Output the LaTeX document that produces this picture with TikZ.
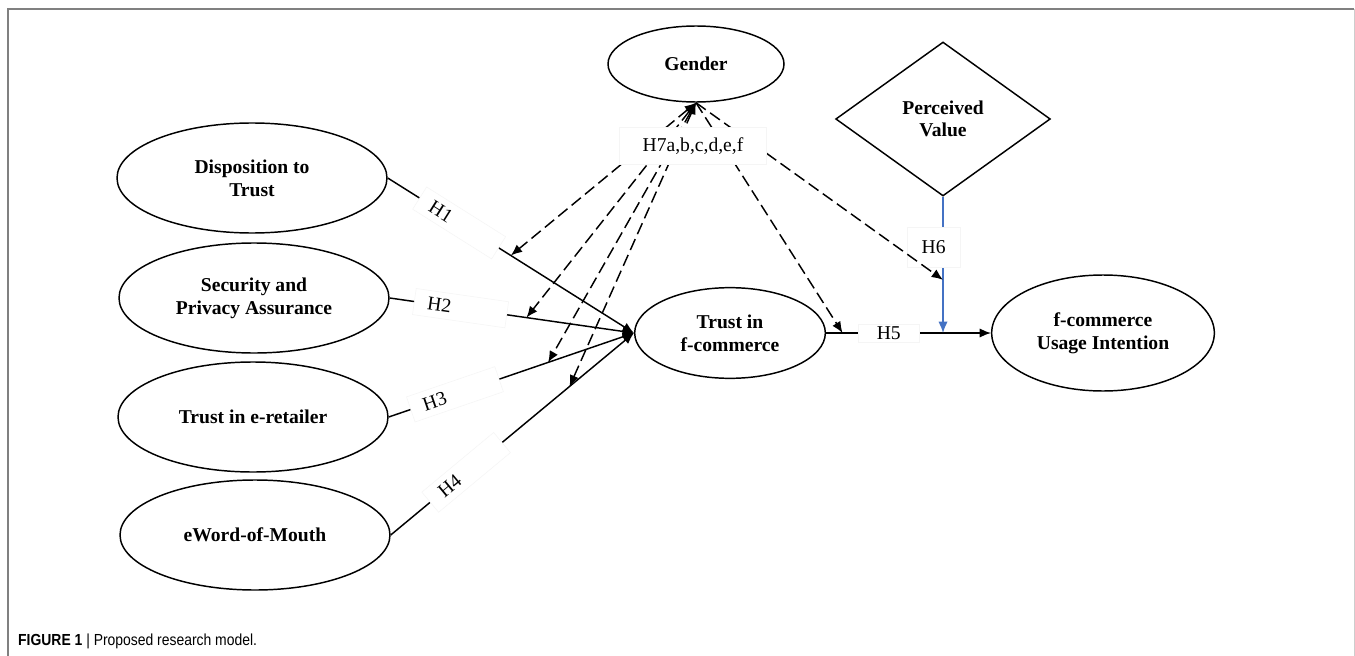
\documentclass[tikz,border=0pt]{standalone}
\usepackage{fontspec}
\setmainfont{Liberation Serif}
\newfontfamily\capfont{Liberation Sans}
\usetikzlibrary{shapes.geometric,arrows.meta}
\begin{document}
\begin{tikzpicture}[x=0.75pt,y=-0.75pt,
  >={Latex[length=8.5pt,width=7pt]},
  construct/.style={draw=drawColor,ellipse,line width=1.1pt,inner sep=0pt,align=center,font=\bfseries\fontsize{14.7pt}{17pt}\selectfont},
  effect/.style={draw=drawColor,line width=1.1pt,->},
  moderate/.style={effect,dash pattern=on 9pt off 4pt},
  hyp/.style={fill=white,draw=black!4,line width=0.4pt,inner sep=2pt,font=\fontsize{14.7pt}{17pt}\selectfont},
  hypslope/.style={hyp,sloped,text width=50pt,align=left,inner xsep=10pt,inner ysep=5pt}]
\definecolor{drawColor}{RGB}{0,0,0}
\definecolor{frameColor}{RGB}{128,128,128}
\definecolor{rightColor}{RGB}{205,205,205}
\definecolor{blueColor}{RGB}{68,114,196}
\path[use as bounding box,fill=white] (0,0) rectangle (1355,656);

\path[draw=frameColor,line width=0.9pt] (8,656) -- (8,9) -- (1354,9);

\path[draw=rightColor,line width=0.6pt] (1354,9) -- (1354,656);

\node[construct,minimum width=202.5pt,minimum height=82.5pt] (DT) at (252,178) {Disposition to\\Trust};

\node[construct,minimum width=202.5pt,minimum height=82.5pt] (SP) at (254,298) {Security and\\Privacy Assurance};

\node[construct,minimum width=202.5pt,minimum height=82.5pt] (TE) at (253,417) {Trust in e-retailer};

\node[construct,minimum width=202.5pt,minimum height=82.5pt] (EW) at (255,535) {eWord-of-Mouth};

\node[construct,minimum width=132pt,minimum height=57pt] (GE) at (696,64) {Gender};

\node[construct,shape=diamond,minimum width=161pt,minimum height=115.5pt] (PV) at (943,119) {Perceived\\Value};

\node[construct,minimum width=143pt,minimum height=68pt] (TF) at (730,333) {Trust in\\f-commerce};

\node[construct,minimum width=167pt,minimum height=87pt] (UI) at (1103,333) {f-commerce\\Usage Intention};

\coordinate (J) at (PV.south |- TF.east);

\draw[effect] (DT.east) -- (TF.west) node[hypslope,pos=0.29] {H1} coordinate[pos=0.5] (m1);

\draw[effect] (SP.east) -- (TF.west) node[hypslope,pos=0.29] {H2} coordinate[pos=0.56] (m2);

\draw[effect] (TE.east) -- (TF.west) node[hypslope,pos=0.27] {H3} coordinate[pos=0.65] (m3);

\draw[effect] (EW.east) -- (TF.west) node[hypslope,pos=0.31] {H4} coordinate[pos=0.735] (m4);

\draw[effect] (TF.east) -- (UI.west) node[hyp,pos=0.38,minimum width=46pt] {H5} coordinate[pos=0.1] (m5);

\draw[effect,draw=blueColor] (PV.south) -- (J) node[hyp,pos=0.37,xshift=-7pt,minimum width=40pt,minimum height=30pt] {H6} coordinate[pos=0.61] (m6);

\draw[moderate,<->] (GE.south) -- (m1);

\draw[moderate,<->] (GE.south) -- (m2);

\draw[moderate,<->] (GE.south) -- (m3);

\draw[moderate,<->] (GE.south) -- (m4);

\draw[moderate] (GE.south) -- (m5);

\draw[moderate] (GE.south) -- (m6);

\node[hyp,minimum width=110pt,minimum height=28pt] (H7) at (693,146) {H7a,b,c,d,e,f};

\node[anchor=west,inner sep=0pt,xscale=0.87,font=\capfont\fontsize{12pt}{14pt}\selectfont] (CAP) at (18,641) {\textbf{FIGURE 1} | Proposed research model.};
\end{tikzpicture}
\end{document}
